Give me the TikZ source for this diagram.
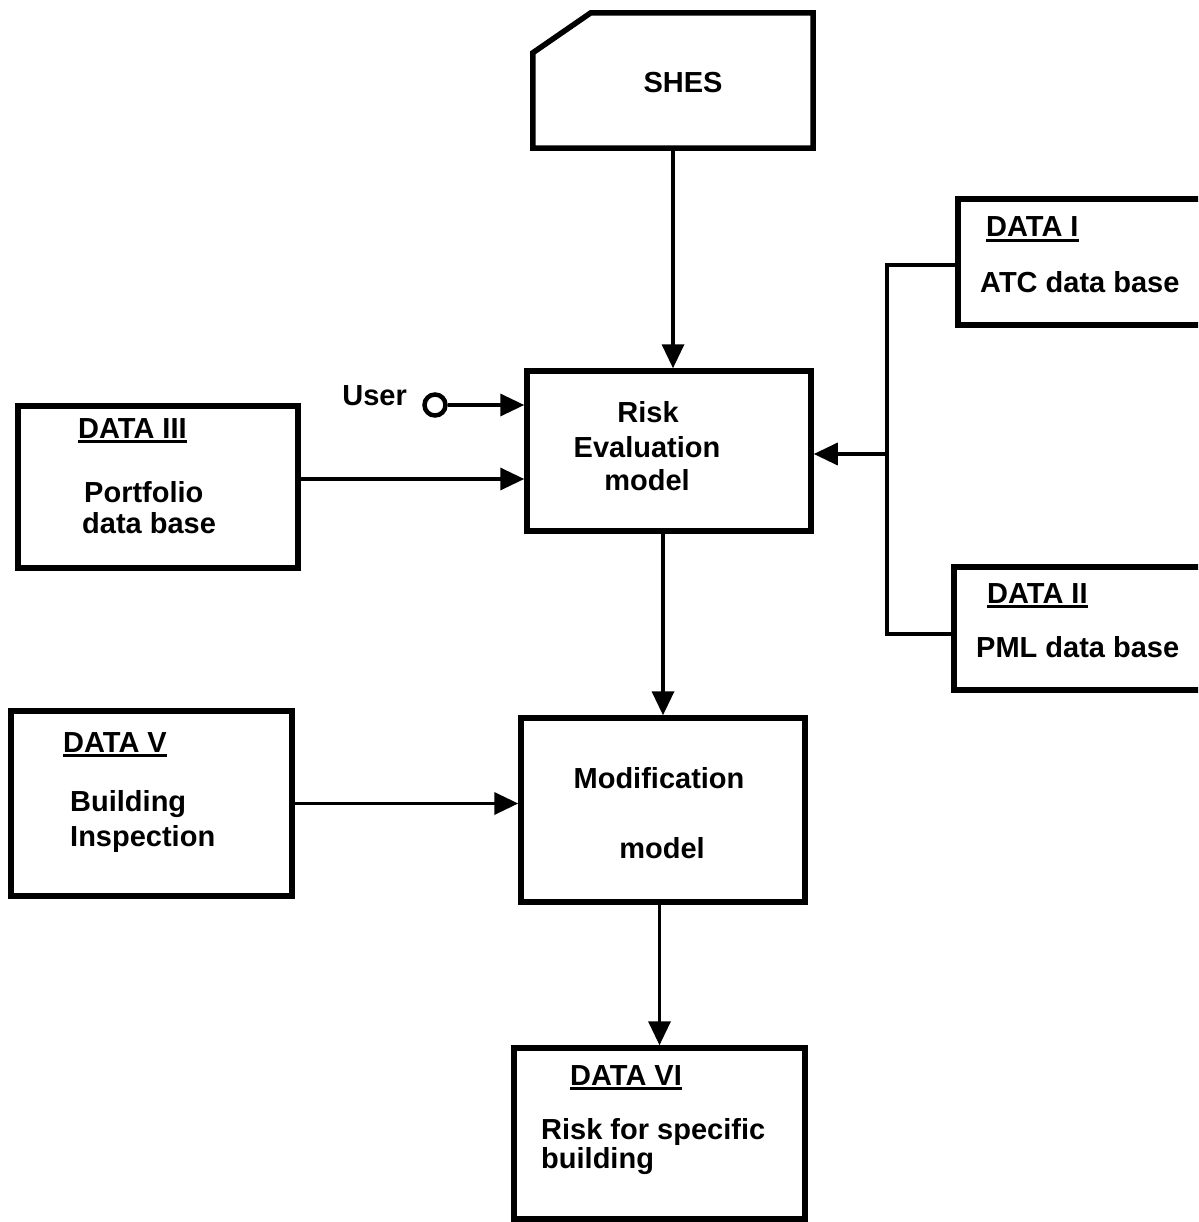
\documentclass[tikz,border=0pt]{standalone}
\usepackage{fontspec}
\setmainfont{Liberation Sans}
\usetikzlibrary{arrows.meta}

% underlined heading for the data boxes
\newcommand{\dataul}[1]{\setbox0\hbox{#1}\rlap{\rule[-5pt]{\wd0}{2.8pt}}\box0}

\tikzset{
  boxshape/.style={draw=black, line width=5.5pt, fill=white, inner sep=0pt, line join=miter},
  conn/.style={draw=black, line width=3.5pt, line cap=rect, line join=miter},
  arr/.style={-{Triangle[length=24pt,width=22pt]}, line cap=butt},
  txt/.style={inner sep=0pt, font=\fontsize{29}{34}\selectfont\bfseries},
}

\begin{document}
\begin{tikzpicture}[x=1pt,y=-1pt]
\clip (0,0) rectangle (1198,1222);
\fill[white] (0,0) rectangle (1198,1222);

% boxes
\node[inner sep=0pt, minimum width=280pt, minimum height=135pt] (shes) at (673,80.5) {};
\draw[boxshape] (shes.south west) -- ([yshift=-40pt]shes.north west)
  -- ([xshift=58pt]shes.north west) -- (shes.north east) -- (shes.south east) -- cycle;

\node[boxshape, minimum width=284pt, minimum height=160pt] (risk) at (669,451) {};
\node[boxshape, minimum width=280pt, minimum height=162pt] (d3) at (158,487) {};
\node[boxshape, minimum width=282pt, minimum height=126pt] (d1) at (1099,262) {};
\node[boxshape, minimum width=286pt, minimum height=123pt] (d2) at (1097,628.5) {};
\node[boxshape, minimum width=284pt, minimum height=184pt] (mod) at (663,810) {};
\node[boxshape, minimum width=281pt, minimum height=185pt] (d5) at (151.5,803.5) {};
\node[boxshape, minimum width=291pt, minimum height=171pt] (d6) at (659.5,1133.5) {};

% user terminal
\node[draw=black, line width=4.5pt, circle, minimum size=21pt, inner sep=0pt] (usr) at (435,405) {};

% texts
\node[txt, anchor=base] (tshes) at (683,93) {SHES};
\node[txt, anchor=base] (trisk1) at (648,422) {Risk};
\node[txt, anchor=base] (trisk2) at (647,457) {Evaluation};
\node[txt, anchor=base] (trisk3) at (647,490) {model};
\node[txt, anchor=base east] (tuser) at (407,405) {User};

\node[txt, anchor=base west] (td3a) at (78,438) {\dataul{DATA III}};
\node[txt, anchor=base west] (td3b) at (84,502) {Portfolio};
\node[txt, anchor=base west] (td3c) at (82,533) {data base};

\node[txt, anchor=base west] (td1a) at (986,237) {\dataul{DATA I}};
\node[txt, anchor=base west] (td1b) at (980,293) {ATC data base};

\node[txt, anchor=base west] (td2a) at (987,603) {\dataul{DATA II}};
\node[txt, anchor=base west] (td2b) at (976,657) {PML data base};

\node[txt, anchor=base west] (td5a) at (63,752) {\dataul{DATA V}};
\node[txt, anchor=base west] (td5b) at (70,811) {Building};
\node[txt, anchor=base west] (td5c) at (70,846) {Inspection};

\node[txt, anchor=base] (tmod1) at (659,788) {Modification};
\node[txt, anchor=base] (tmod2) at (662,858) {model};

\node[txt, anchor=base west] (td6a) at (570,1085) {\dataul{DATA VI}};
\node[txt, anchor=base west] (td6b) at (541,1139) {Risk for specific};
\node[txt, anchor=base west] (td6c) at (541,1168) {building};

% connection points
\coordinate (p3) at ([yshift=8pt]d3.east);
\coordinate (b1) at ([yshift=-3pt]d1.west);
\coordinate (b2) at ([yshift=-5.5pt]d2.west);
\coordinate (j) at (887,454);

% connectors
\draw[conn, arr] (shes.south) -- (shes.south |- risk.north);
\draw[conn, arr] (usr.east) -- (usr -| risk.west);
\draw[conn, arr] (p3) -- (p3 -| risk.west);
\draw[conn] (b1) -| (j) |- (b2);
\draw[conn, arr] (j) -- (j -| risk.east);
\draw[conn, arr] (mod.north |- risk.south) -- (mod.north);
\draw[conn, arr] (d5.east) -- (d5.east -| mod.west);
\draw[conn, arr] (d6.north |- mod.south) -- (d6.north);
\end{tikzpicture}
\end{document}
